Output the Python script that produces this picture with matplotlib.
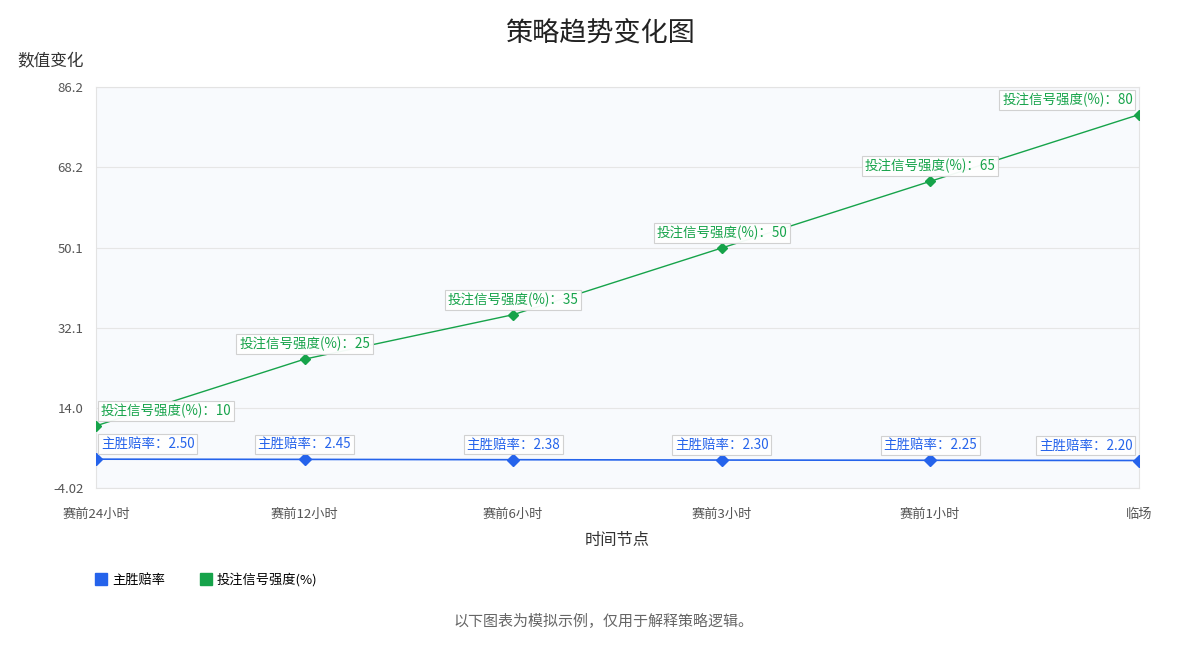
import matplotlib.pyplot as plt
from matplotlib.lines import Line2D
import numpy as np

plt.rcParams['font.family'] = ['Noto Sans CJK SC', 'DejaVu Sans']

# data
categories = ['赛前24小时', '赛前12小时', '赛前6小时', '赛前3小时', '赛前1小时', '临场']
odds = [2.50, 2.45, 2.38, 2.30, 2.25, 2.20]
signal = [10, 25, 35, 50, 65, 80]
y_ticks = [-4.02, 14.0, 32.1, 50.1, 68.2, 86.2]
y_tick_labels = ['-4.02', '14.0', '32.1', '50.1', '68.2', '86.2']

blue = '#2563eb'
green = '#16a34a'

fig = plt.figure(figsize=(12, 6.5), dpi=100)
ax = fig.add_axes([0.08, 0.249, 0.869, 0.617])
ax.set_facecolor('#f8fafd')

x = np.arange(len(categories))
ax.plot(x, odds, color=blue, lw=1.2, marker='D', ms=6, zorder=3)
ax.plot(x, signal, color=green, lw=1.0, marker='D', ms=5.5, zorder=3)

ax.set_xlim(0, len(categories) - 1)
ax.set_ylim(-4.02, 86.2)
ax.set_yticks(np.linspace(-4.02, 86.2, 6))
ax.set_yticklabels(y_tick_labels)
ax.set_xticks(x)
ax.set_xticklabels(categories)
ax.tick_params(length=0, labelsize=9.5, labelcolor='#555555')
ax.tick_params(axis='x', pad=14)
ax.tick_params(axis='y', pad=9)
ax.grid(axis='y', color='#e6e6e6', lw=0.8)
ax.set_axisbelow(True)
for s in ax.spines.values():
    s.set_color('#e3e3e3')
    s.set_linewidth(0.8)


def label(vals, name, fmt, color):
    n = len(vals)
    for i, v in enumerate(vals):
        if i == 0:
            ha, dx = 'left', 5
        elif i == n - 1:
            ha, dx = 'right', -6
        else:
            ha, dx = 'center', 0
        ax.annotate(f'{name}：{fmt.format(v)}', (i, v), xytext=(dx, 15),
                    textcoords='offset pixels', ha=ha, va='center',
                    fontsize=9.7, color=color, zorder=5,
                    bbox=dict(boxstyle='square,pad=0.2', fc='white', ec='#cfcfcf',
                              lw=0.8, alpha=0.95))


label(odds, '主胜赔率', '{:.2f}', blue)
label(signal, '投注信号强度(%)', '{}', green)

fig.text(0.5, 0.949, '策略趋势变化图', ha='center', va='center', fontsize=19.5, color='#222222')
fig.text(0.042, 0.905, '数值变化', ha='center', va='center', fontsize=12, color='#333333')
fig.text(0.514, 0.169, '时间节点', ha='center', va='center', fontsize=11.7, color='#333333')

handles = [Line2D([], [], marker='s', ls='', color=blue, ms=9),
           Line2D([], [], marker='s', ls='', color=green, ms=9)]
fig.legend(handles, ['主胜赔率', '投注信号强度(%)'], loc='center left',
           bbox_to_anchor=(0.069, 0.108), ncol=2, frameon=False, fontsize=9.5,
           handletextpad=0.3, columnspacing=2.6, handlelength=1.0)

fig.text(0.503, 0.046, '以下图表为模拟示例，仅用于解释策略逻辑。', ha='center', va='center',
         fontsize=10.8, color='#666666')

fig.savefig('out.png', dpi=100)
